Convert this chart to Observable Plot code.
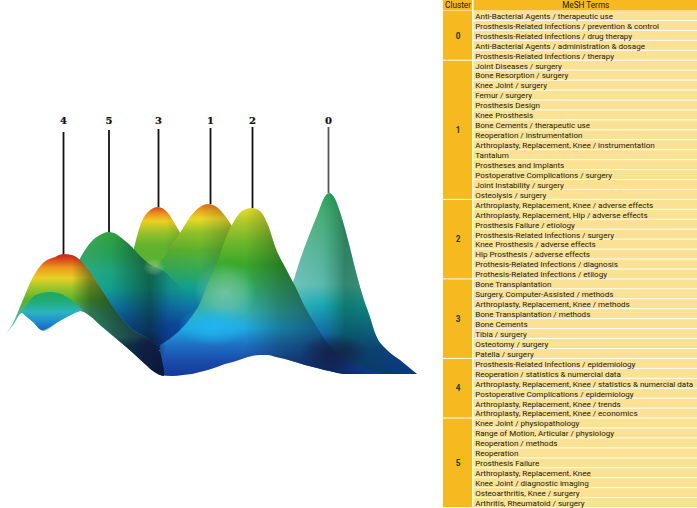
<!DOCTYPE html>
<html>
<head>
<meta charset="utf-8">
<script src="https://cdn.jsdelivr.net/npm/d3@7"></script>
<script src="https://cdn.jsdelivr.net/npm/@observablehq/plot@0.6"></script>
<style>
html,body{margin:0;padding:0;background:#fff}
#wrap{display:flex;width:697px;height:508px;overflow:hidden}
#wrap svg{display:block;flex:none}
</style>
</head>
<body>
<div id="wrap"></div>
<script>
// ---------- table content ----------
const clusterIds = [0, 1, 2, 3, 4, 5];
const terms0 = ["Anti-Bacterial Agents / therapeutic use","Prosthesis-Related Infections / prevention & control","Prosthesis-Related Infections / drug therapy","Anti-Bacterial Agents / administration & dosage","Prosthesis-Related Infections / therapy"];
const terms1 = ["Joint Diseases / surgery","Bone Resorption / surgery","Knee Joint / surgery","Femur / surgery","Prosthesis Design","Knee Prosthesis","Bone Cements / therapeutic use","Reoperation / instrumentation","Arthroplasty, Replacement, Knee / instrumentation","Tantalum","Prostheses and Implants","Postoperative Complications / surgery","Joint Instability / surgery","Osteolysis / surgery"];
const terms2 = ["Arthroplasty, Replacement, Knee / adverse effects","Arthroplasty, Replacement, Hip / adverse effects","Prosthesis Failure / etiology","Prosthesis-Related Infections / surgery","Knee Prosthesis / adverse effects","Hip Prosthesis / adverse effects","Prothesis-Related Infections / diagnosis","Prothesis-Related Infections / etilogy"];
const terms3 = ["Bone Transplantation","Surgery, Computer-Assisted / methods","Arthroplasty, Replacement, Knee / methods","Bone Transplantation / methods","Bone Cements","Tibia / surgery","Osteotomy / surgery","Patella / surgery"];
const terms4 = ["Prosthesis-Related Infections / epidemiology","Reoperation / statistics & numercial data","Arthroplasty, Replacement, Knee / statistics & numercial data","Postoperative Complications / epidemiology","Arthroplasty, Replacement, Knee / trends","Arthroplasty, Replacement, Knee / economics"];
const terms5 = ["Knee Joint / physiopathology","Range of Motion, Articular / physiology","Reoperation / methods","Reoperation","Prosthesis Failure","Arthroplasty, Replacement, Knee","Knee Joint / diagnostic imaging","Osteoarthritis, Knee / surgery","Arthritis, Rheumatoid / surgery"];
const termLists = [terms0, terms1, terms2, terms3, terms4, terms5];
const headers = ["Cluster", "MeSH Terms"];

// ---------- density landscape: peaks ----------
const peakCluster = ["4", "5", "3", "1", "2", "0"];
const peakX       = [63, 108.5, 158, 210, 252, 328];
const peakElev    = [146, 168, 193, 196, 192, 207];
const stemTop     = [268, 270, 271, 272, 273, 273];
const labelElev   = 280;

// ---------- density landscape: ridges, [x, upper elevation, lower elevation] ----------
const ridge3 = [[134,152,130],[140,174,130],[148,188,125],[158,193,125],[168,187,125],[175,176,125],[182,164,125]];
const ridge1 = [[157,133,60],[165,145,60],[172,156,60],[180,167,60],[190,183,60],[200,193,60],[208,196,60],[218,192,60],[228,180,60],[238,164,60]];
const ridge0 = [[286,104,41],[293,118,40],[300,140,37],[310,167,34],[318,187,32],[324,202,30],[329,207,29],[334,203,28],[340,188,27],[348,160,26],[356,128,26],[364,100,26],[370,83,26],[375,67,26],[387,50,26],[400,40,26],[417,26,26]];
const ridge5 = [[78,138,138],[85,150,100],[92,159,95],[100,165,90],[108,168,85],[116,166,75],[124,160,68],[132,153,60],[140,144,55],[148,137,52],[157,132,50],[165,128,50],[175,118,50],[188,106,50],[200,96,60]];
const ridge2 = [[160,55,25],[172,63,24],[183,73,25],[192,84,26],[200,97,28],[208,117,30],[217,137,33],[225,160,36],[233,177,38],[242,189,41],[252,192,44],[260,189,45],[268,175,45],[276,151,43],[285,133,41],[295,114,38],[305,93,35],[317,73,32],[330,54,29],[345,42,26],[362,33,26],[380,28,26]];
const ridge4 = [[3,63,63],[13,77,75],[22,98,87],[33,123,78],[43,137,69],[55,143,76],[63,146,82],[72,145,86],[80,140,89],[90,128,84],[100,113,75],[113,93,64],[125,78,54],[133,70,47],[145,63,36],[153,58,29],[160,48,25],[164,30,24]];
const ridge4b = [[22,87,87],[28,97,82],[33,103,78],[42,107,70],[50,108,73],[58,107,78],[67,103,83],[75,97,87],[83,90,90]];

// ---------- colour ramps: [image row, colour] ----------
const ramp3 = [[207,"#d4471c"],[213,"#ee8a1e"],[221,"#eecf22"],[232,"#9cc22c"],[245,"#62b32e"],[275,"#4fae3a"]];
const ramp1 = [[204,"#d9701c"],[210,"#eba01e"],[219,"#eadb26"],[232,"#93c22a"],[250,"#5cb02c"],[270,"#34aa58"],[288,"#12a090"],[305,"#0f78a8"],[325,"#0c4aa0"],[340,"#0c3f98"]];
const ramp0 = [[193,"#2fa860"],[215,"#48ae78"],[260,"#58b49e"],[285,"#5cbab0"],[305,"#18a8b4"],[330,"#1470aa"],[350,"#123f98"],[374,"#0c3590"]];
const ramp5 = [[232,"#32a23e"],[255,"#259f58"],[270,"#1ea47c"],[288,"#12a090"],[305,"#0f78a8"],[325,"#0c4aa0"],[340,"#0a3f98"]];
const ramp2 = [[208,"#e6dc2a"],[222,"#b0c82a"],[240,"#74b82a"],[265,"#38a82c"],[290,"#36ac70"],[312,"#34b0b0"],[328,"#20a8e0"],[345,"#1e70c4"],[362,"#1a4aa8"],[376,"#123a9c"]];
const ramp4 = [[254,"#c4241c"],[259,"#d8441c"],[268,"#ee9a1e"],[278,"#e8d024"],[288,"#9cc42c"],[300,"#5ab22e"],[312,"#48b482"],[325,"#52c0a4"],[337,"#5cc4bc"],[345,"#14608c"],[376,"#10357c"]];
const ramp4b = [[292,"#22a85a"],[302,"#20ac78"],[312,"#2cb4c0"],[322,"#1e8cd0"],[332,"#1a5ab4"]];

// ---------- side shading: [image column, colour, opacity] ----------
const shade3 = [[134,"#000",0],[165,"#000",0],[182,"#000",0.12]];
const shade1 = [[157,"#0a1440",0.05],[200,"#0a1440",0],[238,"#000",0.25]];
const shade0 = [[286,"#fff",0.15],[322,"#fff",0],[322,"#063",0],[345,"#042",0.45],[372,"#042",0.35],[417,"#042",0.1]];
const shade5 = [[78,"#fff",0.08],[110,"#fff",0],[110,"#06240f",0],[150,"#06240f",0.5],[170,"#0a1440",0.12],[190,"#0a1440",0]];
const shade2 = [[160,"#000",0],[245,"#041a10",0],[280,"#041a10",0.3],[330,"#041030",0.55],[380,"#041030",0.1]];
const shade4 = [[3,"#0a2a12",0],[72,"#0a2a12",0],[90,"#0a2a12",0.45],[115,"#0a2a20",0.68],[145,"#0a1430",0.82],[160,"#0a1430",0.88]];

// ---------- soft patches: [x1, x2, row1, row2, colour] ----------
const patches = [
  [300, 368, 334, 372, "#161d40"],
  [134, 166, 330, 366, "#121c44"],
  [178, 250, 306, 346, "#1fb8f2"],
  [143, 165, 258, 276, "#a8d890"],
  [194, 256, 262, 322, "#a8dcc8"]
];

const layers = [
  {id:"r3", data:ridge3, ramp:ramp3, shade:shade3},
  {id:"r1", data:ridge1, ramp:ramp1, shade:shade1},
  {id:"r0", data:ridge0, ramp:ramp0, shade:shade0},
  {id:"r5", data:ridge5, ramp:ramp5, shade:shade5},
  {id:"r2", data:ridge2, ramp:ramp2, shade:shade2},
  {id:"r4", data:ridge4, ramp:ramp4, shade:shade4},
  {id:"r4b", data:ridge4b, ramp:ramp4b, shade:null}
];

const chartW = 443, H = 508;

function defsMark() {
  const defs = d3.create("svg:defs");
  for (const l of layers) {
    const v = defs.append("linearGradient").attr("id", "v-" + l.id)
      .attr("gradientUnits", "userSpaceOnUse").attr("x1", 0).attr("x2", 0).attr("y1", 0).attr("y2", H);
    for (const [row, c] of l.ramp) v.append("stop").attr("offset", row / H).attr("stop-color", c);
    if (l.shade) {
      const s = defs.append("linearGradient").attr("id", "s-" + l.id)
        .attr("gradientUnits", "userSpaceOnUse").attr("x1", 0).attr("x2", chartW).attr("y1", 0).attr("y2", 0);
      for (const [col, c, o] of l.shade) s.append("stop").attr("offset", col / chartW).attr("stop-color", c).attr("stop-opacity", o);
    }
  }
  patches.forEach((p, i) => {
    const r = defs.append("radialGradient").attr("id", "p-" + i);
    const k = i >= 3 ? 0.6 : 1;
    r.append("stop").attr("offset", 0).attr("stop-color", p[4]).attr("stop-opacity", 0.8 * k);
    r.append("stop").attr("offset", 0.55).attr("stop-color", p[4]).attr("stop-opacity", 0.45 * k);
    r.append("stop").attr("offset", 1).attr("stop-color", p[4]).attr("stop-opacity", 0);
  });
  return defs.node();
}

const areaOpts = {x: d => d[0], y1: d => d[1], y2: d => d[2], curve: "monotone-x"};
const patchOrderAfter = {r5: [3], r2: [4, 2, 0], r4: [1]};

const chartMarks = [defsMark];
for (const l of layers) {
  chartMarks.push(Plot.areaY(l.data, {...areaOpts, fill: `url(#v-${l.id})`}));
  if (l.shade) chartMarks.push(Plot.areaY(l.data, {...areaOpts, fill: `url(#s-${l.id})`}));
  for (const i of patchOrderAfter[l.id] || []) {
    const p = patches[i];
    chartMarks.push(Plot.rect([p], {x1: d => d[0], x2: d => d[1], y1: d => 400 - d[2], y2: d => 400 - d[3], fill: `url(#p-${i})`}));
  }
}
const peaks = peakCluster.map((c, i) => ({c, x: peakX[i], e: peakElev[i], t: stemTop[i]}));
chartMarks.push(
  Plot.ruleX(peaks, {x: "x", y1: "e", y2: "t", stroke: d => d.c === "0" ? "#555" : "#111", strokeWidth: 1.8}),
  Plot.text(peaks, {x: "x", y: labelElev, text: "c", fontFamily: "DejaVu Serif", fontWeight: 700, fontSize: 10, fill: "#111", stroke: "#111", strokeWidth: 0.2})
);

const chart = Plot.plot({
  width: chartW, height: H, margin: 0,
  x: {domain: [0, chartW], range: [0, chartW], axis: null},
  y: {domain: [400 - H, 400], range: [H, 0], axis: null},
  marks: chartMarks
});

// ---------- table ----------
const rows = [];
const blocks = [];
let idx = 0;
clusterIds.forEach((c, k) => {
  blocks.push({c, start: idx, end: idx + termLists[k].length});
  for (const t of termLists[k]) rows.push({i: idx++, t});
});
const colSplit = [0, 29, 30.5, 254];
const tableFont = "Roboto, sans-serif";
const table = Plot.plot({
  width: 254, height: H, margin: 0,
  x: {domain: [0, 254], range: [0, 254], axis: null},
  y: {domain: [-1.107, rows.length], range: [0, H], axis: null},
  marks: [
    Plot.rect([headers[0]], {x1: colSplit[0], x2: colSplit[1], y1: -1.107, y2: -0.05, fill: "#f6b91f"}),
    Plot.rect([headers[1]], {x1: colSplit[2], x2: colSplit[3], y1: -1.107, y2: -0.05, fill: "#f6b91f"}),
    Plot.rect(blocks, {x1: colSplit[0], x2: colSplit[1], y1: "start", y2: "end", insetBottom: 1, fill: "#f6b91f"}),
    Plot.rect(rows, {x1: colSplit[2], x2: colSplit[3], y1: "i", y2: d => d.i + 1, insetBottom: 1, fill: "#fbe194"}),
    Plot.text(headers, {x: (d, i) => i ? (colSplit[2] + colSplit[3]) / 2 : colSplit[1] / 2, y: -0.58, text: d => d, fontFamily: tableFont, fontSize: 8.2, fontWeight: 400, fill: "#222014"}),
    Plot.text(blocks, {x: colSplit[1] / 2, y: d => (d.start + d.end) / 2 - 0.04, text: d => String(d.c), fontFamily: tableFont, fontSize: 8.2, fontWeight: 700, fill: "#33301c"}),
    Plot.text(rows, {x: colSplit[2] + 1.2, y: d => d.i + 0.48, text: "t", textAnchor: "start", fontFamily: tableFont, fontSize: 8.05, fontWeight: 400, fill: "#1c1a10"})
  ]
});

document.getElementById("wrap").append(chart, table);
</script>
</body>
</html>
